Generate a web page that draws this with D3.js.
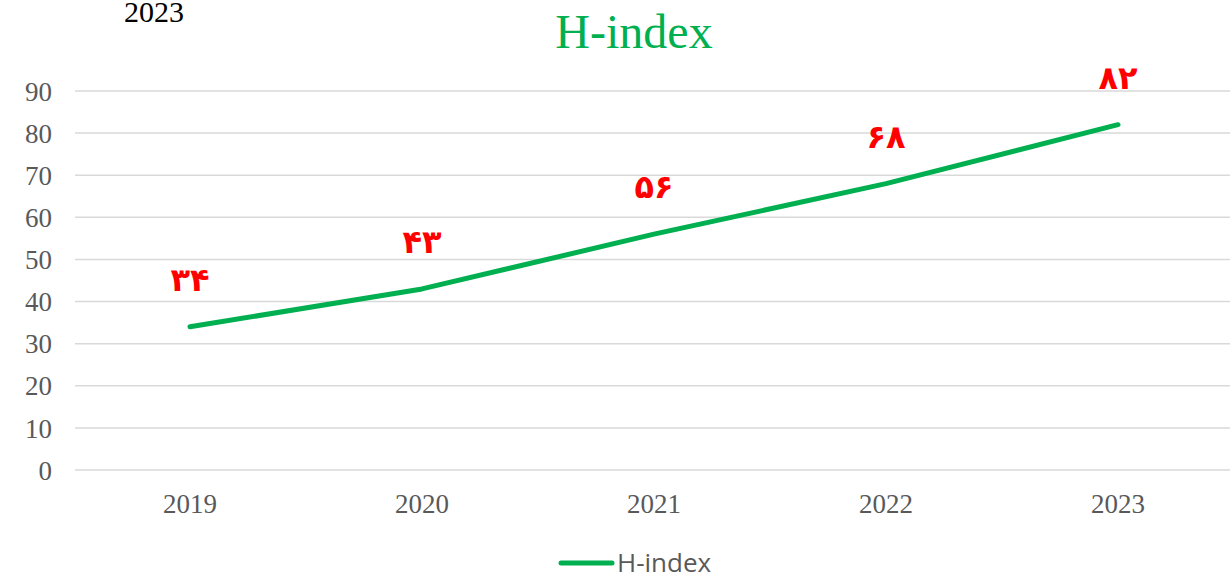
<!DOCTYPE html>
<html>
<head>
<meta charset="utf-8">
<script src="https://cdn.jsdelivr.net/npm/d3@7"></script>
<style>
  body { margin: 0; background: #fff; }
</style>
</head>
<body>
<div id="chart"></div>
<script>
var years = ["2019", "2020", "2021", "2022", "2023"];
var hIndex = [34, 43, 56, 68, 82];
var hLabels = ["۳۴", "۴۳", "۵۶", "۶۸", "۸۲"];
var yTicks = [0, 10, 20, 30, 40, 50, 60, 70, 80, 90];

var width = 1230, height = 580;
var green = "#00b050";
var serif = "'Liberation Serif', 'Times New Roman', serif";

var svg = d3.select("#chart").append("svg")
    .attr("width", width)
    .attr("height", height);

var x = d3.scaleBand().domain(years).range([74, 1234]);
var y = d3.scaleLinear().domain([0, 90]).range([470, 91]);

// gridlines
svg.selectAll("line.grid")
    .data(yTicks)
    .enter()
    .append("line")
    .attr("class", "grid")
    .attr("x1", 75)
    .attr("x2", 1230)
    .attr("y1", function (d) { return y(d); })
    .attr("y2", function (d) { return y(d); })
    .style("stroke", "#d9d9d9")
    .style("stroke-width", 1.5);

// y axis labels
var yAxis = svg.append("g")
    .attr("transform", "translate(52,0)")
    .call(d3.axisLeft(y).tickValues(yTicks).tickSize(0).tickPadding(0));
yAxis.select(".domain").remove();
yAxis.selectAll("text")
    .attr("x", 0)
    .attr("dy", "0.34em")
    .style("font-family", serif)
    .style("font-size", "27px")
    .style("fill", "#595959");

// x axis labels
var xAxis = svg.append("g")
    .attr("transform", "translate(0,470)")
    .call(d3.axisBottom(x).tickSize(0).tickPadding(0));
xAxis.select(".domain").remove();
xAxis.selectAll("text")
    .attr("y", 43)
    .attr("dy", 0)
    .style("font-family", serif)
    .style("font-size", "27px")
    .style("fill", "#595959");

// line
var line = d3.line()
    .x(function (d, i) { return x(years[i]) + x.bandwidth() / 2; })
    .y(function (d) { return y(d); });

svg.append("path")
    .datum(hIndex)
    .attr("d", line)
    .style("fill", "none")
    .style("stroke", green)
    .style("stroke-width", 5)
    .style("stroke-linecap", "round")
    .style("stroke-linejoin", "round");

// data labels (persian digits)
svg.selectAll("text.lbl")
    .data(hIndex)
    .enter()
    .append("text")
    .attr("class", "lbl")
    .attr("x", function (d, i) { return x(years[i]) + x.bandwidth() / 2; })
    .attr("y", function (d) { return y(d) - 36; })
    .attr("text-anchor", "middle")
    .style("font-family", "'DejaVu Sans', sans-serif")
    .style("font-weight", "bold")
    .style("font-size", "32px")
    .style("fill", "#ff0000")
    .text(function (d, i) { return hLabels[i]; });

// title
svg.append("text")
    .attr("x", 634)
    .attr("y", 48)
    .attr("text-anchor", "middle")
    .style("font-family", serif)
    .style("font-size", "48px")
    .style("fill", green)
    .text("H-index");

svg.append("text")
    .attr("x", 124)
    .attr("y", 22)
    .style("font-family", serif)
    .style("font-size", "30px")
    .style("fill", "#000")
    .text("2023");

// legend
svg.append("line")
    .attr("x1", 561).attr("x2", 612)
    .attr("y1", 563).attr("y2", 563)
    .style("stroke", green)
    .style("stroke-width", 5)
    .style("stroke-linecap", "round");

svg.append("text")
    .attr("x", 617)
    .attr("y", 572)
    .style("font-family", "'Open Sans', sans-serif")
    .style("font-size", "26px")
    .style("fill", "#595959")
    .text("H-index");
</script>
</body>
</html>
